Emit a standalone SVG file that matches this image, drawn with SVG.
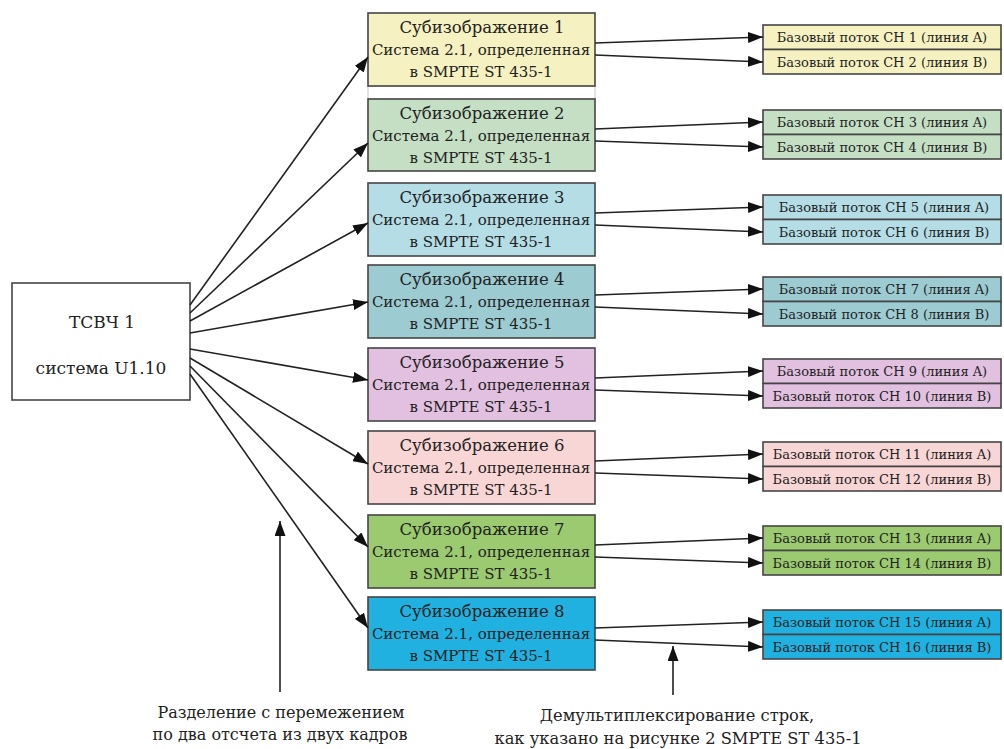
<svg xmlns="http://www.w3.org/2000/svg" width="1004" height="749" viewBox="0 0 1004 749">
<defs>
<marker id="ah" markerWidth="15" markerHeight="11" refX="15" refY="5.5" orient="auto" markerUnits="userSpaceOnUse">
<path d="M0,0 L15,5.5 L0,11 z" fill="#111"/>
</marker>
<style>
.box{stroke:#454545;stroke-width:1.6}
.t{font-family:"DejaVu Serif","Liberation Serif",serif;fill:#222;text-anchor:middle}
.title{font-size:16.5px}
.sub{font-size:15px}
.small{font-size:13px}
.big{font-size:17px}
.lbl{font-size:16px}
.lbl2{font-size:16.3px}
.c{stroke:#222;stroke-width:1.6;fill:none;marker-end:url(#ah)}
.y{fill:#f6f1c1}.g{fill:#c5dfc5}.lb{fill:#b4dde6}.tl{fill:#9dcbd2}.v{fill:#e2c0e0}.p{fill:#f9d6d6}.gr{fill:#9cca70}.cy{fill:#21b1e0}
</style>
</defs>
<rect width="1004" height="749" fill="#fff"/>

<g id="tsvch">
<rect class="box" x="12" y="283" width="178" height="117" fill="#fff"/>
<text class="t big" x="102" y="328">ТСВЧ 1</text>
<text class="t big" x="101" y="374">система U1.10</text>
</g>

<rect x="368" y="86" width="227" height="13" fill="#fff" stroke="#c8c8c8" stroke-width="1"/>

<g id="sub1"><rect class="box y" x="368" y="13" width="227" height="73"/>
<text class="t title" x="482" y="33">Субизображение 1</text><text class="t sub" x="481" y="55">Система 2.1, определенная</text><text class="t sub" x="481" y="77">в SMPTE ST 435-1</text></g>
<g id="sub2"><rect class="box g" x="368" y="99" width="227" height="72"/>
<text class="t title" x="482" y="119">Субизображение 2</text><text class="t sub" x="481" y="141">Система 2.1, определенная</text><text class="t sub" x="481" y="163">в SMPTE ST 435-1</text></g>
<g id="sub3"><rect class="box lb" x="368" y="183" width="227" height="73"/>
<text class="t title" x="482" y="203">Субизображение 3</text><text class="t sub" x="481" y="225">Система 2.1, определенная</text><text class="t sub" x="481" y="247">в SMPTE ST 435-1</text></g>
<g id="sub4"><rect class="box tl" x="368" y="265" width="227" height="73"/>
<text class="t title" x="482" y="285">Субизображение 4</text><text class="t sub" x="481" y="307">Система 2.1, определенная</text><text class="t sub" x="481" y="329">в SMPTE ST 435-1</text></g>
<g id="sub5"><rect class="box v" x="368" y="348" width="227" height="73"/>
<text class="t title" x="482" y="368">Субизображение 5</text><text class="t sub" x="481" y="390">Система 2.1, определенная</text><text class="t sub" x="481" y="412">в SMPTE ST 435-1</text></g>
<g id="sub6"><rect class="box p" x="368" y="431" width="227" height="73"/>
<text class="t title" x="482" y="451">Субизображение 6</text><text class="t sub" x="481" y="473">Система 2.1, определенная</text><text class="t sub" x="481" y="495">в SMPTE ST 435-1</text></g>
<g id="sub7"><rect class="box gr" x="368" y="515" width="227" height="73"/>
<text class="t title" x="482" y="535">Субизображение 7</text><text class="t sub" x="481" y="557">Система 2.1, определенная</text><text class="t sub" x="481" y="579">в SMPTE ST 435-1</text></g>
<g id="sub8"><rect class="box cy" x="368" y="597" width="227" height="73"/>
<text class="t title" x="482" y="617">Субизображение 8</text><text class="t sub" x="481" y="639">Система 2.1, определенная</text><text class="t sub" x="481" y="661">в SMPTE ST 435-1</text></g>

<g id="ch1"><rect class="box y" x="763" y="25" width="238" height="24.5"/><text class="t small" x="882" y="42">Базовый поток CH 1 (линия A)</text></g>
<g id="ch2"><rect class="box y" x="763" y="49.5" width="238" height="24.5"/><text class="t small" x="882" y="67">Базовый поток CH 2 (линия B)</text></g>
<g id="ch3"><rect class="box g" x="763" y="110" width="238" height="24.5"/><text class="t small" x="882" y="127">Базовый поток CH 3 (линия A)</text></g>
<g id="ch4"><rect class="box g" x="763" y="134.5" width="238" height="24.5"/><text class="t small" x="882" y="152">Базовый поток CH 4 (линия B)</text></g>
<g id="ch5"><rect class="box lb" x="763" y="195" width="238" height="24.5"/><text class="t small" x="884" y="212">Базовый поток CH 5 (линия A)</text></g>
<g id="ch6"><rect class="box lb" x="763" y="219.5" width="238" height="24.5"/><text class="t small" x="884" y="237">Базовый поток CH 6 (линия B)</text></g>
<g id="ch7"><rect class="box tl" x="763" y="277" width="238" height="24.5"/><text class="t small" x="884" y="294">Базовый поток CH 7 (линия A)</text></g>
<g id="ch8"><rect class="box tl" x="763" y="301.5" width="238" height="24.5"/><text class="t small" x="884" y="319">Базовый поток CH 8 (линия B)</text></g>
<g id="ch9"><rect class="box v" x="763" y="359" width="238" height="24.5"/><text class="t small" x="882" y="376">Базовый поток CH 9 (линия A)</text></g>
<g id="ch10"><rect class="box v" x="763" y="383.5" width="238" height="24.5"/><text class="t small" x="882" y="401">Базовый поток CH 10 (линия B)</text></g>
<g id="ch11"><rect class="box p" x="763" y="442" width="238" height="24.5"/><text class="t small" x="882" y="459">Базовый поток CH 11 (линия A)</text></g>
<g id="ch12"><rect class="box p" x="763" y="466.5" width="238" height="24.5"/><text class="t small" x="882" y="484">Базовый поток CH 12 (линия B)</text></g>
<g id="ch13"><rect class="box gr" x="763" y="526" width="238" height="24.5"/><text class="t small" x="882" y="543">Базовый поток CH 13 (линия A)</text></g>
<g id="ch14"><rect class="box gr" x="763" y="550.5" width="238" height="24.5"/><text class="t small" x="882" y="568">Базовый поток CH 14 (линия B)</text></g>
<g id="ch15"><rect class="box cy" x="763" y="610" width="238" height="24.5"/><text class="t small" x="882" y="627">Базовый поток CH 15 (линия A)</text></g>
<g id="ch16"><rect class="box cy" x="763" y="634.5" width="238" height="24.5"/><text class="t small" x="882" y="652">Базовый поток CH 16 (линия B)</text></g>

<g id="connectors">
<line class="c" x1="190" y1="305" x2="368" y2="57"/>
<line class="c" x1="190" y1="313" x2="368" y2="143"/>
<line class="c" x1="190" y1="321" x2="368" y2="223"/>
<line class="c" x1="190" y1="333" x2="368" y2="302"/>
<line class="c" x1="190" y1="349" x2="368" y2="380"/>
<line class="c" x1="190" y1="358" x2="368" y2="464"/>
<line class="c" x1="190" y1="366" x2="368" y2="547"/>
<line class="c" x1="190" y1="374" x2="368" y2="628"/>

<line class="c" x1="595" y1="43" x2="763" y2="37"/>
<line class="c" x1="595" y1="55" x2="763" y2="62"/>
<line class="c" x1="595" y1="129" x2="763" y2="122"/>
<line class="c" x1="595" y1="141" x2="763" y2="147"/>
<line class="c" x1="595" y1="213" x2="763" y2="207"/>
<line class="c" x1="595" y1="225" x2="763" y2="232"/>
<line class="c" x1="595" y1="295" x2="763" y2="289"/>
<line class="c" x1="595" y1="307" x2="763" y2="314"/>
<line class="c" x1="595" y1="378" x2="763" y2="371"/>
<line class="c" x1="595" y1="390" x2="763" y2="396"/>
<line class="c" x1="595" y1="461" x2="763" y2="454"/>
<line class="c" x1="595" y1="473" x2="763" y2="479"/>
<line class="c" x1="595" y1="545" x2="763" y2="538"/>
<line class="c" x1="595" y1="557" x2="763" y2="563"/>
<line class="c" x1="595" y1="628" x2="763" y2="622"/>
<line class="c" x1="595" y1="640" x2="763" y2="647"/>

<line class="c" x1="280" y1="692" x2="280" y2="521"/>
<line class="c" x1="673" y1="695" x2="673" y2="646"/>
</g>

<g id="labels">
<text class="t lbl" x="281" y="718">Разделение с перемежением</text>
<text class="t lbl" x="280" y="740">по два отсчета из двух кадров</text>
<text class="t lbl2" x="677" y="721">Демультиплексирование строк,</text>
<text class="t lbl2" x="678" y="744">как указано на рисунке 2 SMPTE ST 435-1</text>
</g>
</svg>
